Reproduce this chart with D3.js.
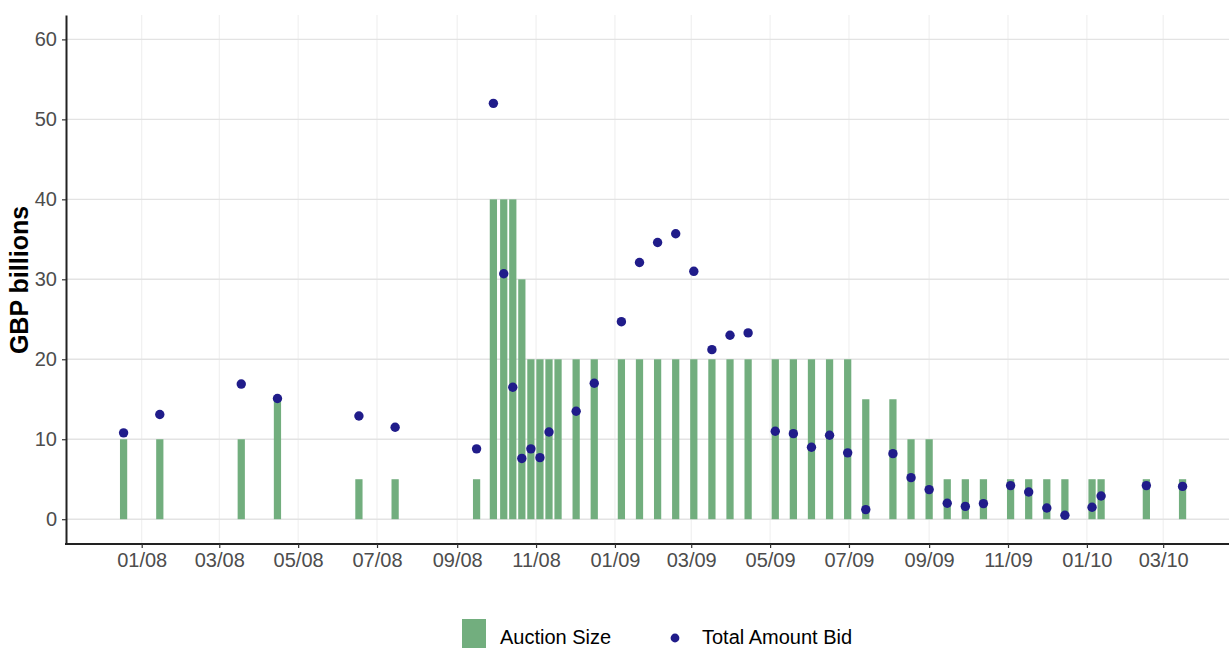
<!DOCTYPE html>
<html>

<head>
    <title>Auction Size and Total Amount Bid</title>
    <script src="https://d3js.org/d3.v7.min.js"></script>
    <style type="text/css">
        html,
        body {
            margin: 0;
            background: #ffffff;
        }
        #chart text {
            font-family: "Liberation Sans", Arial, sans-serif;
        }
        .tick text {
            fill: #4d4d4d;
            font-size: 20px;
        }
    </style>
</head>

<body>
    <svg id="chart" width="1229" height="648"></svg>
    <script type="text/javascript">
        // auction dates (one bar each)
        var auctionDates = [
            "2007-12-18", "2008-01-15", "2008-03-18", "2008-04-15", "2008-06-17", "2008-07-15", "2008-09-16",
            "2008-09-29", "2008-10-07", "2008-10-14", "2008-10-21", "2008-10-28", "2008-11-04", "2008-11-11", "2008-11-18",
            "2008-12-02", "2008-12-16", "2009-01-06", "2009-01-20", "2009-02-03", "2009-02-17", "2009-03-03", "2009-03-17",
            "2009-03-31", "2009-04-14", "2009-05-05", "2009-05-19", "2009-06-02", "2009-06-16", "2009-06-30", "2009-07-14",
            "2009-08-04", "2009-08-18", "2009-09-01", "2009-09-15", "2009-09-29", "2009-10-13", "2009-11-03", "2009-11-17",
            "2009-12-01", "2009-12-15", "2010-01-05", "2010-01-12", "2010-02-16", "2010-03-16"
        ];

        // GBP billions
        var auctionSize = [
            10, 10, 10, 15, 5, 5, 5,
            40, 40, 40, 30, 20, 20, 20, 20,
            20, 20, 20, 20, 20, 20, 20, 20,
            20, 20, 20, 20, 20, 20, 20, 15,
            15, 10, 10, 5, 5, 5, 5, 5,
            5, 5, 5, 5, 5, 5
        ];

        var totalBid = [
            10.8, 13.1, 16.9, 15.1, 12.9, 11.5, 8.8,
            52.0, 30.7, 16.5, 7.6, 8.8, 7.7, 10.9, null,
            13.5, 17.0, 24.7, 32.1, 34.6, 35.7, 31.0, 21.2,
            23.0, 23.3, 11.0, 10.7, 9.0, 10.5, 8.3, 1.2,
            8.2, 5.2, 3.7, 2.0, 1.6, 1.95, 4.2, 3.4,
            1.4, 0.5, 1.5, 2.9, 4.2, 4.1
        ];

        var yTicks = [0, 10, 20, 30, 40, 50, 60];
        var xTickDates = ["2008-01-01", "2008-03-01", "2008-05-01", "2008-07-01", "2008-09-01", "2008-11-01",
            "2009-01-01", "2009-03-01", "2009-05-01", "2009-07-01", "2009-09-01", "2009-11-01",
            "2010-01-01", "2010-03-01"
        ];
        var xLimits = ["2007-11-03T11:00", "2010-04-20T22:00"];

        var legendLabels = ["Auction Size", "Total Amount Bid"];

        var barColor = "#72ae7e",
            dotColor = "#201c8a";

        var parseDay = d3.utcParse("%Y-%m-%d"),
            parseLim = d3.utcParse("%Y-%m-%dT%H:%M");

        var data = auctionDates.map(function(d, i) {
            return { date: parseDay(d), size: auctionSize[i], bid: totalBid[i] };
        });

        // plot panel edges (window.top is read-only, so don't call it "top")
        var pLeft = 66, pRight = 1229, pTop = 15, pBottom = 544;

        var x = d3.scaleUtc()
            .domain(xLimits.map(parseLim))
            .range([pLeft, pRight]);

        var y = d3.scaleLinear()
            .domain([-3.1, 63.05])
            .range([pBottom, pTop]);

        var svg = d3.select("#chart");

        /* grid */
        var grid = svg.append("g");
        grid.selectAll("line.v")
            .data(xTickDates.map(parseDay))
            .enter().append("line")
            .attr("x1", function(d) { return x(d); })
            .attr("x2", function(d) { return x(d); })
            .attr("y1", pTop).attr("y2", pBottom)
            .attr("stroke", "#efefef").attr("stroke-width", 1.1);
        grid.selectAll("line.h")
            .data(yTicks)
            .enter().append("line")
            .attr("x1", pLeft).attr("x2", pRight)
            .attr("y1", function(d) { return y(d); })
            .attr("y2", function(d) { return y(d); })
            .attr("stroke", "#e3e3e3").attr("stroke-width", 1.4);

        /* bars: width = 0.8 of a week */
        var week = x(parseDay("2008-01-08")) - x(parseDay("2008-01-01"));
        var bw = week * 0.8;

        svg.append("g").selectAll("rect")
            .data(data)
            .enter().append("rect")
            .attr("x", function(d) { return x(d.date) - bw / 2; })
            .attr("width", bw)
            .attr("y", function(d) { return y(d.size); })
            .attr("height", function(d) { return y(0) - y(d.size); })
            .attr("fill", barColor);

        svg.append("g").selectAll("circle")
            .data(data.filter(function(d) { return d.bid != null; }))
            .enter().append("circle")
            .attr("cx", function(d) { return x(d.date); })
            .attr("cy", function(d) { return y(d.bid); })
            .attr("r", 4.7)
            .attr("fill", dotColor);

        /* axes */
        var xAxis = svg.append("g")
            .attr("transform", "translate(0," + pBottom + ")")
            .call(d3.axisBottom(x)
                .tickValues(xTickDates.map(parseDay))
                .tickFormat(d3.utcFormat("%m/%y"))
                .tickSize(4)
                .tickPadding(5)
                .tickSizeOuter(0));

        var yAxis = svg.append("g")
            .attr("transform", "translate(" + pLeft + ",0)")
            .call(d3.axisLeft(y)
                .tickValues(yTicks)
                .tickSize(4)
                .tickPadding(5)
                .tickSizeOuter(0));

        [xAxis, yAxis].forEach(function(a) {
            a.select(".domain").attr("stroke", "#222").attr("stroke-width", 2);
            a.selectAll(".tick line").attr("stroke", "#333").attr("stroke-width", 1.2);
        });
        xAxis.select(".domain").attr("d", "M" + (pLeft - 1) + ",0H" + pRight);

        svg.append("text")
            .attr("transform", "translate(28,280) rotate(-90)")
            .attr("text-anchor", "middle")
            .attr("font-size", 25)
            .attr("font-weight", "bold")
            .attr("fill", "#000")
            .text("GBP billions");

        /* legend */
        var lg = svg.append("g");
        lg.append("rect")
            .attr("x", 462).attr("y", 619)
            .attr("width", 24).attr("height", 30)
            .attr("fill", barColor);
        lg.append("text")
            .attr("x", 500).attr("y", 644)
            .attr("font-size", 20).attr("fill", "#000")
            .text(legendLabels[0]);
        lg.append("circle")
            .attr("cx", 675).attr("cy", 638)
            .attr("r", 4.4).attr("fill", dotColor);
        lg.append("text")
            .attr("x", 702).attr("y", 644)
            .attr("font-size", 20).attr("fill", "#000")
            .text(legendLabels[1]);
    </script>
</body>

</html>
